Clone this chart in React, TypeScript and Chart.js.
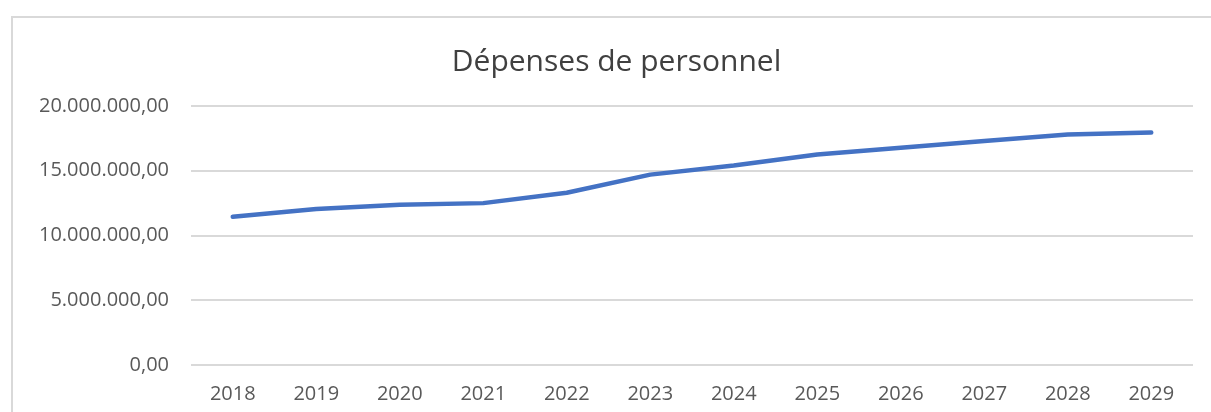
import React, { useEffect, useRef } from "react";
import { Chart, registerables } from "chart.js";

Chart.register(...registerables);

const categories: string[] = ["2018", "2019", "2020", "2021", "2022", "2023", "2024", "2025", "2026", "2027", "2028", "2029"];
const personnelValues: number[] = [11450000, 12050000, 12380000, 12500000, 13300000, 14700000, 15400000, 16250000, 16770000, 17300000, 17800000, 17950000];
const yTickMin = 0;
const yTickMax = 20000000;
const yTickStep = 5000000;
const chartTitle = "Dépenses de personnel";

function formatFr(v: number): string {
  const int = Math.round(v).toString().replace(/\B(?=(\d{3})+(?!\d))/g, ".");
  return int + ",00";
}

export default function App() {
  const canvasRef = useRef<HTMLCanvasElement | null>(null);

  useEffect(() => {
    document.body.style.margin = "0";
    const ctx = canvasRef.current;
    if (!ctx) return;
    const chart = new Chart(ctx, {
      type: "line",
      data: {
        labels: categories,
        datasets: [
          {
            label: chartTitle,
            data: personnelValues,
            borderColor: "#4472C4",
            backgroundColor: "#4472C4",
            borderWidth: 4.5,
            borderCapStyle: "round",
            borderJoinStyle: "round",
            pointRadius: 0,
            tension: 0,
            fill: false,
          },
        ],
      },
      options: {
        animation: false,
        responsive: true,
        maintainAspectRatio: false,
        layout: { padding: { left: 40, right: 18, top: 0, bottom: 0 } },
        plugins: {
          legend: { display: false },
          tooltip: { enabled: false },
          title: {
            display: true,
            text: chartTitle,
            color: "#404040",
            font: { family: "'Open Sans', sans-serif", size: 30, weight: "normal" },
            padding: { top: 44, bottom: 26 },
          },
        },
        scales: {
          x: {
            offset: true,
            grid: { display: false },
            border: { display: false },
            ticks: {
              color: "#595959",
              font: { family: "'Open Sans', sans-serif", size: 20 },
              padding: 9,
              maxRotation: 0,
            },
            afterFit: (scale: any) => {
              scale.height = 47;
            },
          },
          y: {
            min: yTickMin,
            max: yTickMax,
            border: { display: false },
            grid: { color: "#d9d9d9", lineWidth: 2, drawTicks: false },
            ticks: {
              stepSize: yTickStep,
              color: "#595959",
              font: { family: "'Open Sans', sans-serif", size: 20 },
              padding: 22,
              callback: (v: any) => formatFr(Number(v)),
            },
            afterFit: (scale: any) => {
              scale.width = 151;
            },
          },
        },
      },
    });
    return () => chart.destroy();
  }, []);

  return (
    <div style={{ position: "absolute", left: 0, top: 0, width: 1211, height: 412, background: "#fff", overflow: "hidden" }}>
      <div
        style={{
          position: "absolute",
          left: 11,
          top: 16,
          width: 1400,
          height: 600,
          border: "2px solid #d9d9d9",
          boxSizing: "border-box",
        }}
      />
      <div style={{ position: "absolute", left: 0, top: 0, width: 1211, height: 412 }}>
        <canvas ref={canvasRef} />
      </div>
    </div>
  );
}
